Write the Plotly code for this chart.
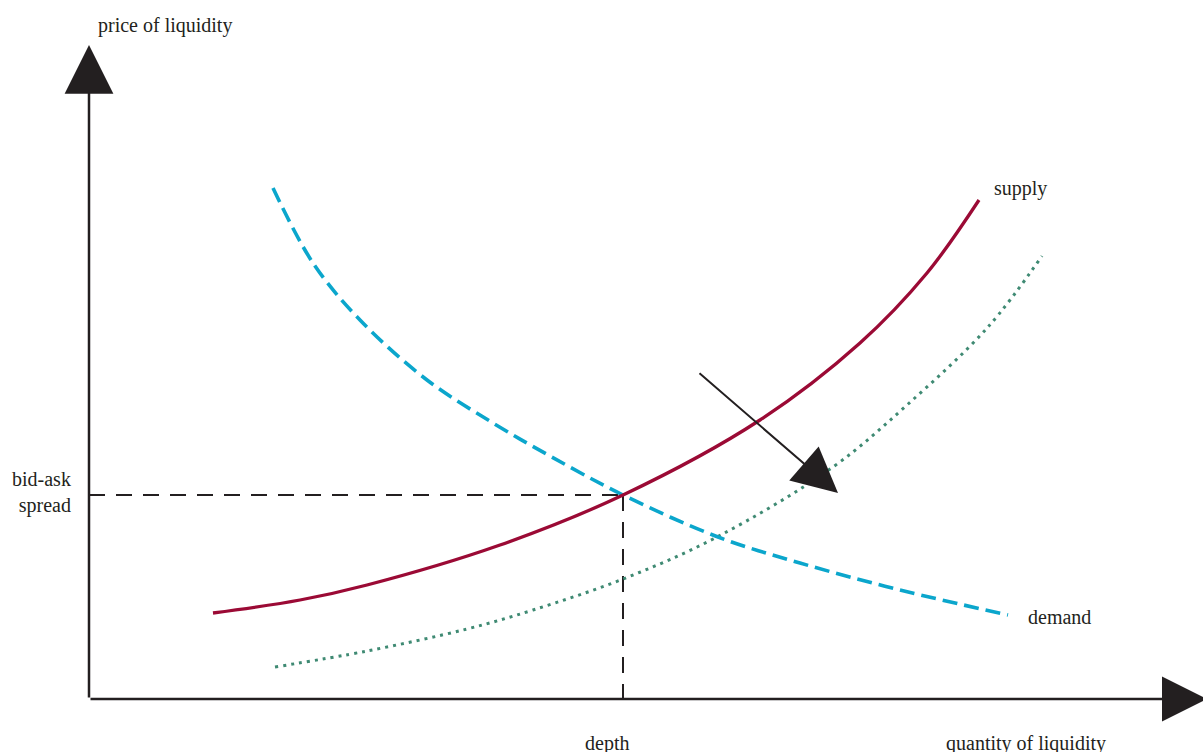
import plotly.graph_objects as go

# ---- data (quantity of liquidity, price of liquidity) ----
supply_q = [12.4, 21.1, 27.8, 41.1, 53.4, 67.1, 77.1, 83.8, 89.0]
supply_p = [8.6, 9.9, 11.4, 15.4, 20.4, 27.9, 35.6, 42.6, 49.9]

demand_q = [18.4, 22.4, 27.1, 33.8, 40.4, 46.1, 53.4, 62.9, 71.1, 81.1, 91.9]
demand_p = [51.1, 43.6, 37.9, 31.9, 27.6, 24.3, 20.4, 16.2, 13.6, 10.9, 8.4]

shifted_q = [18.6, 27.8, 37.8, 44.4, 53.4, 62.8, 74.4, 81.8, 89.9, 95.3]
shifted_p = [3.2, 4.8, 7.0, 8.9, 12.0, 16.2, 23.2, 29.4, 37.2, 44.3]

depth = 53.4
spread = 20.4

shift_arrow_tail = [60.9, 32.7]
shift_arrow_tip = [74.9, 20.6]

axis_x_end = 111.8
axis_y_end = 65.4

labels = {
    "y_title": "price of liquidity",
    "x_title": "quantity of liquidity",
    "depth": "depth",
    "spread": "bid-ask<br>spread",
    "supply": "supply",
    "demand": "demand",
}

INK = "#231F20"
FONT = dict(family="Liberation Serif, Times New Roman, serif", size=20, color=INK)

fig = go.Figure()

# equilibrium guide lines
fig.add_trace(go.Scatter(x=[0, depth], y=[spread, spread], mode="lines",
                         line=dict(color=INK, width=2, dash="16px,11px"), hoverinfo="skip"))
fig.add_trace(go.Scatter(x=[depth, depth], y=[spread, 0], mode="lines",
                         line=dict(color=INK, width=2, dash="16px,11px"), hoverinfo="skip"))

# curves
fig.add_trace(go.Scatter(x=shifted_q, y=shifted_p, mode="lines",
                         line=dict(color="#3F8A73", width=3, dash="3px,5px", shape="spline", smoothing=1),
                         hoverinfo="skip"))
fig.add_trace(go.Scatter(x=demand_q, y=demand_p, mode="lines",
                         line=dict(color="#0BA6CC", width=3.6, dash="15px,7px", shape="spline", smoothing=1),
                         hoverinfo="skip"))
fig.add_trace(go.Scatter(x=supply_q, y=supply_p, mode="lines",
                         line=dict(color="#9B0A35", width=3.3, shape="spline", smoothing=1),
                         hoverinfo="skip"))

# arrows (axes and shift)
def arrow(tip, tail, width, size):
    fig.add_annotation(x=tip[0], y=tip[1], ax=tail[0], ay=tail[1],
                       xref="x", yref="y", axref="x", ayref="y",
                       showarrow=True, arrowhead=2, arrowsize=size, arrowwidth=width,
                       arrowcolor=INK, standoff=0, text="")

arrow([0, axis_y_end], [0, 0], 2.5, 3.9)
arrow([axis_x_end, 0], [0, 0], 2.5, 3.6)
arrow(shift_arrow_tip, shift_arrow_tail, 2, 4.5)

# text labels
def label(x, y, text, xanchor="center", align="center"):
    fig.add_annotation(x=x, y=y, text=text, showarrow=False, xref="x", yref="y",
                       xanchor=xanchor, yanchor="middle", align=align, font=FONT)

label(0.7, 67.4, labels["y_title"], xanchor="left")
label(93.7, -4.4, labels["x_title"])
label(depth - 1.6, -4.4, labels["depth"])
label(-1.6, spread + 0.3, labels["spread"], xanchor="right", align="right")
label(90.3, 51.1, labels["supply"], xanchor="left")
label(93.7, 8.2, labels["demand"], xanchor="left")

fig.update_layout(
    width=1203, height=752,
    margin=dict(l=0, r=0, t=0, b=0),
    paper_bgcolor="white", plot_bgcolor="white",
    showlegend=False,
    xaxis=dict(range=[-8.9, 111.4], visible=False, fixedrange=True),
    yaxis=dict(range=[-5.3, 69.9], visible=False, fixedrange=True),
)

fig.write_html(
    "out.html",
    config={"displayModeBar": False},
    post_script="document.body.style.margin='0';document.body.style.overflow='hidden';",
)
